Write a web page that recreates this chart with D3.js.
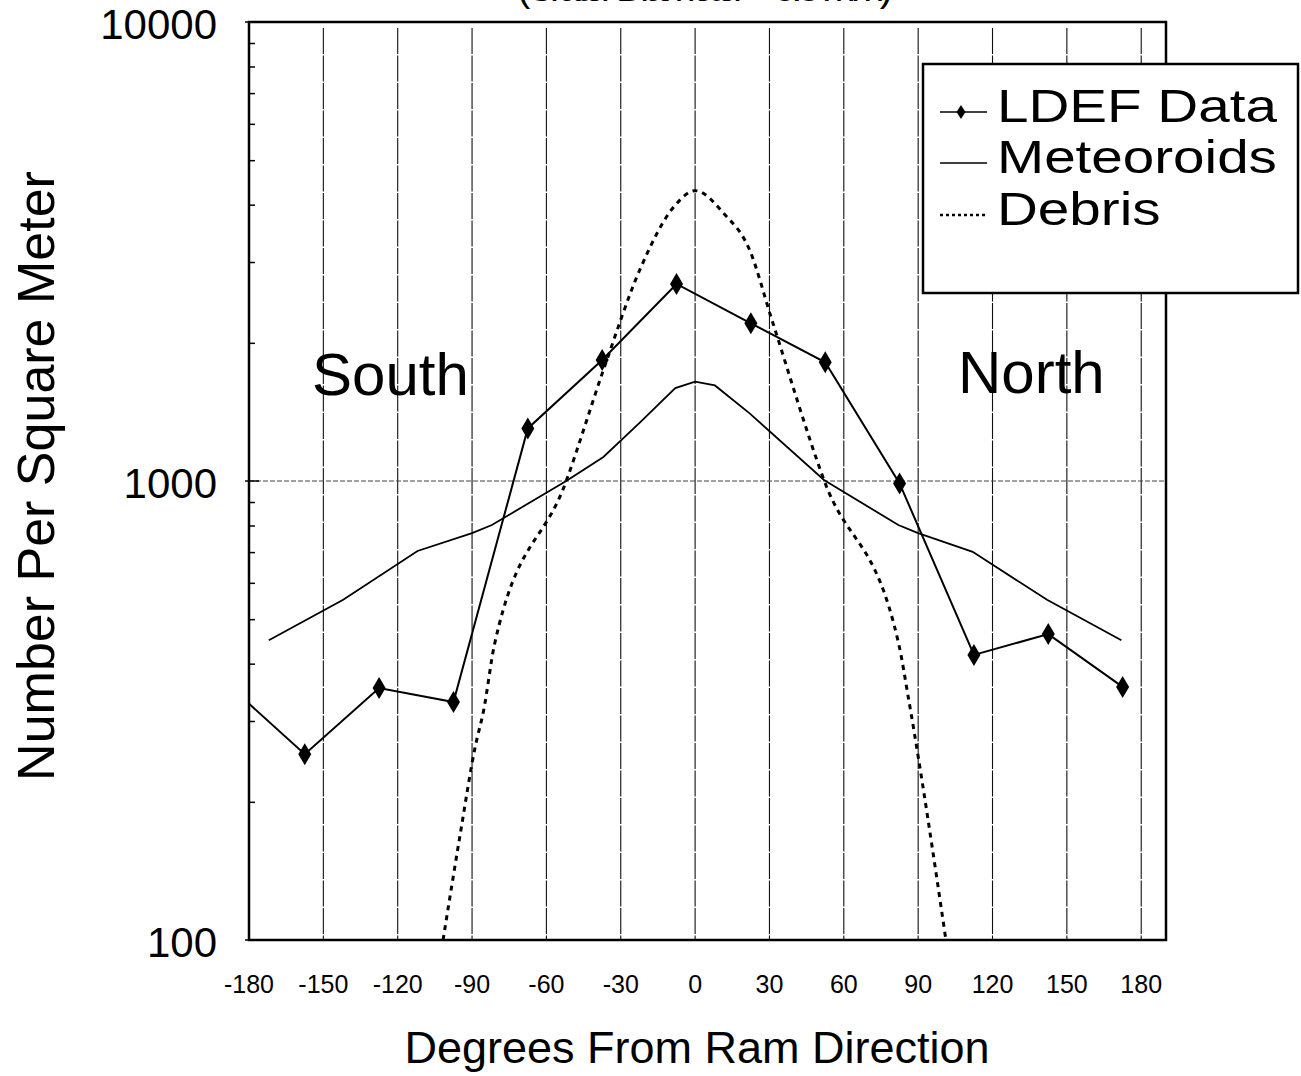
<!DOCTYPE html>
<html>
<head>
<meta charset="utf-8">
<script src="https://cdn.jsdelivr.net/npm/d3@7"></script>
<style>
  body { margin: 0; background: #fff; }
  text { font-family: "Liberation Sans", Arial, Helvetica, sans-serif; fill: #000; }
</style>
</head>
<body>
<div id="chart"></div>
<script>
// data
var ldefAngles = [-157.5, -127.5, -97.5, -67.5, -37.5, -7.5, 22.5, 52.5, 82.5, 112.5, 142.5, 172.5];
var ldefValues = [254, 354, 330, 1302, 1835, 2687, 2206, 1814, 988, 418, 464, 356];

var meteorAngles = [-172, -142, -112, -90, -82, -52, -37, -22, -8, 0, 8, 22, 52, 82, 90, 112, 142, 172];
var meteorValues = [450, 551, 704, 770, 802, 1000, 1128, 1345, 1594, 1646, 1615, 1404, 1005, 802, 770, 701, 551, 450];

var debrisAngles = [-101.7, -94.7, -88.7, -85.3, -81, -52, -37, -22, -8, 0, 11.5, 22, 31, 52, 82.1, 86.1, 101.2];
var debrisValues = [100, 171, 264, 317, 439, 1000, 1745, 2911, 3992, 4291, 3830, 3186, 2243, 1005, 443, 336, 100];

var xTicks = [-180, -150, -120, -90, -60, -30, 0, 30, 60, 90, 120, 150, 180];
var yTicks = [100, 1000, 10000];
var seriesNames = ["LDEF Data", "Meteoroids", "Debris"];

// size
var width = 1301, height = 1076;
var plot = {left: 249, right: 1166, top: 22, bottom: 940};

var svg = d3.select("#chart").append("svg")
    .attr("width", width)
    .attr("height", height);

svg.append("rect")
    .attr("width", width)
    .attr("height", height)
    .attr("fill", "#fff");

// scales
var x = d3.scaleLinear()
    .domain([-180, 190])
    .range([plot.left, plot.right]);

var y = d3.scaleLog()
    .domain([100, 10000])
    .range([plot.bottom, plot.top]);

svg.append("clipPath")
    .attr("id", "clip")
    .append("rect")
    .attr("x", plot.left)
    .attr("y", plot.top)
    .attr("width", plot.right - plot.left)
    .attr("height", plot.bottom - plot.top);

// vertical grid lines
svg.append("g")
    .selectAll("line")
    .data(xTicks.slice(1))
    .enter().append("line")
    .attr("x1", function(d) { return x(d); })
    .attr("x2", function(d) { return x(d); })
    .attr("y1", plot.top + 6)
    .attr("y2", plot.bottom)
    .attr("stroke", "#111")
    .attr("stroke-width", 1.1)
    .attr("stroke-dasharray", "26,1.5");

// horizontal grid line at 1000
svg.append("line")
    .attr("x1", plot.left)
    .attr("x2", plot.right)
    .attr("y1", y(1000))
    .attr("y2", y(1000))
    .attr("stroke", "#444")
    .attr("stroke-width", 1)
    .attr("stroke-dasharray", "5,2");

// left axis: minor ticks pointing inward
var yAxis = d3.axisRight(y)
    .tickValues(d3.range(2, 10).map(function(k) { return k * 100; })
        .concat(d3.range(2, 10).map(function(k) { return k * 1000; })))
    .tickSize(6)
    .tickFormat("");

var gy = svg.append("g")
    .attr("transform", "translate(" + plot.left + ",0)")
    .call(yAxis);
gy.select(".domain").remove();
gy.selectAll(".tick line").attr("stroke", "#000").attr("stroke-width", 1.5);

svg.append("g")
    .selectAll("line")
    .data(yTicks)
    .enter().append("line")
    .attr("x1", plot.left - 4)
    .attr("x2", plot.left + 10)
    .attr("y1", function(d) { return y(d); })
    .attr("y2", function(d) { return y(d); })
    .attr("stroke", "#000")
    .attr("stroke-width", 1.5);

// y tick labels
svg.append("g")
    .selectAll("text")
    .data(yTicks)
    .enter().append("text")
    .attr("x", 217)
    .attr("y", function(d) { return y(d) + 2; })
    .attr("dy", "0.36em")
    .attr("text-anchor", "end")
    .style("font-size", "42px")
    .text(function(d) { return d; });

// x tick labels
svg.append("g")
    .selectAll("text")
    .data(xTicks)
    .enter().append("text")
    .attr("x", function(d) { return x(d); })
    .attr("y", 993)
    .attr("text-anchor", "middle")
    .style("font-size", "25px")
    .text(function(d) { return d; });

// lines
var line = d3.line()
    .x(function(d) { return x(d[0]); })
    .y(function(d) { return y(d[1]); });

var smooth = d3.line()
    .x(function(d) { return x(d[0]); })
    .y(function(d) { return y(d[1]); })
    .curve(d3.curveMonotoneX);

var lines = svg.append("g").attr("clip-path", "url(#clip)");

lines.append("path")
    .datum(d3.zip(meteorAngles, meteorValues))
    .attr("d", line)
    .attr("fill", "none")
    .attr("stroke", "#000")
    .attr("stroke-width", 1.8);

lines.append("path")
    .datum(d3.zip(debrisAngles, debrisValues))
    .attr("d", smooth)
    .attr("fill", "none")
    .attr("stroke", "#000")
    .attr("stroke-width", 3)
    .attr("stroke-dasharray", "5,5");

// LDEF line wraps around from the last row
var last = ldefAngles.length - 1;
var ldefData = [[ldefAngles[last] - 360, ldefValues[last]]].concat(d3.zip(ldefAngles, ldefValues));
lines.append("path")
    .datum(ldefData)
    .attr("d", line)
    .attr("fill", "none")
    .attr("stroke", "#000")
    .attr("stroke-width", 2);

// diamond markers
var diamond = "M0,-11L6.5,0L0,11L-6.5,0Z";
svg.append("g")
    .selectAll("path")
    .data(d3.zip(ldefAngles, ldefValues))
    .enter().append("path")
    .attr("d", diamond)
    .attr("transform", function(d) { return "translate(" + x(d[0]) + "," + y(d[1]) + ")"; })
    .attr("fill", "#000");

// frame
svg.append("rect")
    .attr("x", plot.left)
    .attr("y", plot.top)
    .attr("width", plot.right - plot.left)
    .attr("height", plot.bottom - plot.top)
    .attr("fill", "none")
    .attr("stroke", "#000")
    .attr("stroke-width", 2.5);

// region labels
svg.append("text")
    .attr("x", 312)
    .attr("y", 395)
    .style("font-size", "60px")
    .text("South");

svg.append("text")
    .attr("x", 958)
    .attr("y", 393)
    .style("font-size", "60px")
    .text("North");

// legend
var legend = svg.append("g");
legend.append("rect")
    .attr("x", 923)
    .attr("y", 64)
    .attr("width", 375)
    .attr("height", 229)
    .attr("fill", "#fff")
    .attr("stroke", "#000")
    .attr("stroke-width", 2.5);

var rowY = [122, 173, 225];
var item = legend.selectAll(".item")
    .data(seriesNames)
    .enter().append("g")
    .attr("class", "item")
    .attr("transform", function(d, i) { return "translate(0," + rowY[i] + ")"; });

item.append("line")
    .attr("x1", 940)
    .attr("x2", 987)
    .attr("y1", -10)
    .attr("y2", -10)
    .attr("stroke", "#000")
    .attr("stroke-width", function(d, i) { return i == 2 ? 2.5 : 1.5; })
    .attr("stroke-dasharray", function(d, i) { return i == 2 ? "3,3" : null; });

item.filter(function(d, i) { return i == 0; })
    .append("path")
    .attr("d", "M0,-7L4.5,0L0,7L-4.5,0Z")
    .attr("transform", "translate(961,-10)")
    .attr("fill", "#000");

// legend text is a bit wide in the original, so stretch it
item.append("text")
    .attr("x", 997)
    .attr("y", 0)
    .style("font-size", "46px")
    .text(function(d) { return d; })
    .each(function() {
        var w = this.getComputedTextLength();
        d3.select(this)
            .attr("textLength", w * 1.23)
            .attr("lengthAdjust", "spacingAndGlyphs");
    });

// axis titles
svg.append("text")
    .attr("x", 697)
    .attr("y", 1063)
    .attr("text-anchor", "middle")
    .style("font-size", "45px")
    .text("Degrees From Ram Direction");

svg.append("text")
    .attr("transform", "translate(54,476) rotate(-90)")
    .attr("text-anchor", "middle")
    .style("font-size", "52px")
    .text("Number Per Square Meter");

// title, mostly cut off at the top edge
svg.append("text")
    .attr("x", 517)
    .attr("y", 1)
    .attr("textLength", 376)
    .style("font-size", "40px")
    .text("(Crater Diameter > 0.5 mm)");
</script>
</body>
</html>
